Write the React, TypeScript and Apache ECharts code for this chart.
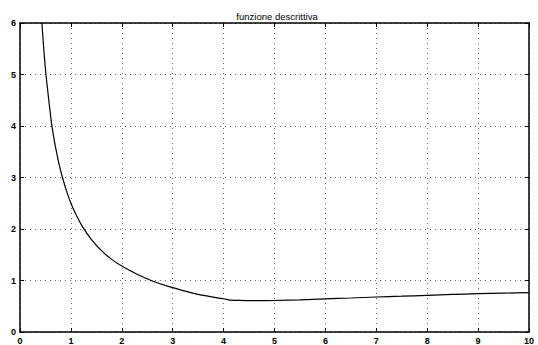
import React, { useEffect, useRef } from "react";
import * as echarts from "echarts";

const titleText = "funzione descrittiva";
const xTicks = [0, 1, 2, 3, 4, 5, 6, 7, 8, 9, 10];
const yTicks = [0, 1, 2, 3, 4, 5, 6];
const curveX = [0.43, 0.47, 0.51, 0.56, 0.62, 0.66, 0.7, 0.77, 0.84, 0.92, 1.0, 1.1, 1.23, 1.4, 1.6, 1.8, 2.0, 2.3, 2.6, 2.93, 3.3, 3.6, 4.0, 4.1, 4.3, 4.6, 5.0, 5.5, 6.0, 6.5, 7.0, 7.5, 8.0, 8.5, 9.0, 9.5, 10];
const curveY = [6.0, 5.45, 5.0, 4.55, 4.05, 3.8, 3.58, 3.25, 2.98, 2.72, 2.5, 2.28, 2.04, 1.8, 1.58, 1.41, 1.28, 1.12, 0.99, 0.88, 0.78, 0.71, 0.645, 0.625, 0.615, 0.61, 0.612, 0.625, 0.645, 0.66, 0.68, 0.695, 0.712, 0.73, 0.744, 0.755, 0.763];

export default function App() {
  const ref = useRef<HTMLDivElement>(null);
  useEffect(() => {
    if (!ref.current) return;
    const chart = echarts.init(ref.current, undefined, { renderer: "svg" });
    const font = "'Liberation Sans', Arial, Helvetica, sans-serif";
    const axisLine = { show: true, onZero: false, lineStyle: { color: "#000", width: 1.5 } };
    const tick = { show: true, inside: true, length: 4, lineStyle: { color: "#000", width: 1 } };
    const grid = { show: true, lineStyle: { color: "#666", type: [1, 4] as any, width: 1 } };
    const label = { color: "#000", fontSize: 9, fontWeight: "bold" as const, fontFamily: font };
    chart.setOption({
      animation: false,
      backgroundColor: "#fff",
      title: {
        text: titleText,
        left: 272,
        textAlign: "center",
        top: 6,
        textStyle: { fontSize: 9.5, fontWeight: "normal", color: "#000", fontFamily: font },
      },
      grid: { left: 20, right: 9, top: 23, bottom: 13, containLabel: false },
      xAxis: [
        {
          type: "value", min: 0, max: 10, interval: 1, position: "bottom",
          axisLine, axisTick: tick, splitLine: grid,
          axisLabel: { ...label, margin: 4, formatter: (v: number) => (xTicks.includes(v) ? String(v) : "") },
        },
        {
          type: "value", min: 0, max: 10, interval: 1, position: "top",
          axisLine, axisTick: tick, splitLine: { show: false }, axisLabel: { show: false },
        },
      ],
      yAxis: [
        {
          type: "value", min: 0, max: 6, interval: 1, position: "left",
          axisLine, axisTick: tick, splitLine: grid,
          axisLabel: { ...label, margin: 4, formatter: (v: number) => (yTicks.includes(v) ? String(v) : "") },
        },
        {
          type: "value", min: 0, max: 6, interval: 1, position: "right",
          axisLine, axisTick: tick, splitLine: { show: false }, axisLabel: { show: false },
        },
      ],
      series: [
        {
          type: "line",
          data: curveX.map((x, i) => [x, curveY[i]]),
          showSymbol: false,
          smooth: 0.25,
          lineStyle: { color: "#000", width: 1.2 },
          clip: true,
        },
      ],
    });
    return () => chart.dispose();
  }, []);
  return <div ref={ref} style={{ position: "fixed", left: 0, top: 0, width: 538, height: 345, background: "#fff" }} />;
}
